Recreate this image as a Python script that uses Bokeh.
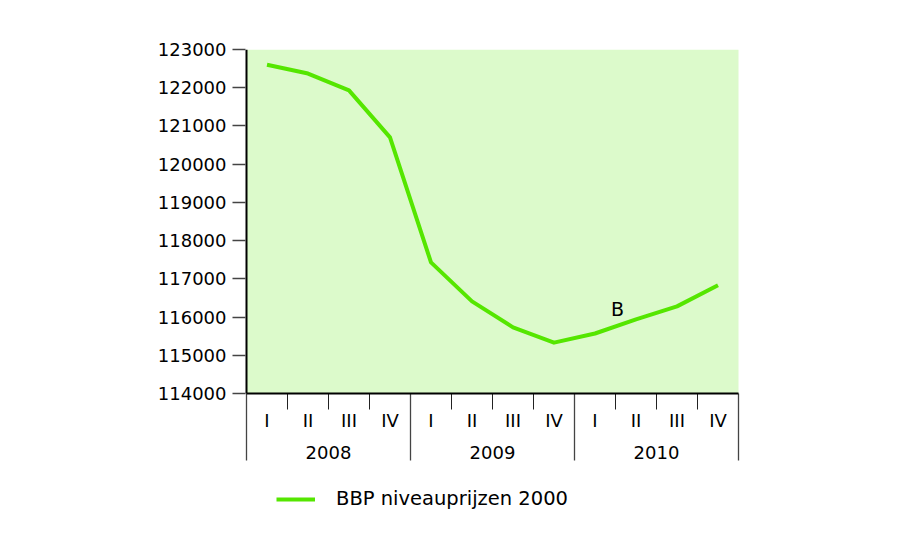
from bokeh.plotting import figure
from bokeh.models import Range1d, FixedTicker, Legend, LegendItem, BasicTickFormatter
from bokeh.embed import file_html
from bokeh.resources import INLINE
from bokeh.core.properties import value

# ---- data ----
years = ["2008", "2009", "2010"]
quarters = ["I", "II", "III", "IV"]
bbp = [122600, 122370, 121930, 120700,
       117430, 116410, 115730, 115330,
       115570, 115940, 116280, 116830]
series_name = "BBP niveauprijzen 2000"
y_ticks = [114000, 115000, 116000, 117000, 118000, 119000, 120000, 121000, 122000, 123000]
note_text = ["B"]
note_x = [9.05]
note_y = [116200]

# ---- layout constants (pixels) ----
W, H = 900, 548
F_LEFT, F_RIGHT, F_TOP, F_BOTTOM = 243, 741, 49, 548
Q_PX = 41.0          # pixels per quarter
PAD = 3              # extra frame pixels on left/right
Y_MIN, Y_MAX = y_ticks[0], y_ticks[-1]
AXIS_BOTTOM_PX = 393
PX_PER_UNIT = (AXIS_BOTTOM_PX - F_TOP) / (Y_MAX - Y_MIN)

def ypx(px):
    return Y_MAX - (px - F_TOP) / PX_PER_UNIT

FONT = "DejaVu Sans"
GREEN_BG = "#dcfacb"
GREEN_LINE = "#55e600"

n = len(bbp)
xs = [i + 0.5 for i in range(n)]

p = figure(width=W, height=H, output_backend="svg", toolbar_location=None,
           x_range=Range1d(-PAD / Q_PX, n + PAD / Q_PX),
           y_range=Range1d(ypx(F_BOTTOM), Y_MAX),
           x_axis_type=None,
           min_border_left=F_LEFT, min_border_right=W - F_RIGHT,
           min_border_top=F_TOP, min_border_bottom=H - F_BOTTOM)
p.outline_line_color = None
p.background_fill_color = "white"
p.border_fill_color = "white"
p.ygrid.grid_line_color = None

ax = p.yaxis[0]
ax.ticker = FixedTicker(ticks=y_ticks)
ax.formatter = BasicTickFormatter(use_scientific=False)
ax.bounds = (Y_MIN, Y_MAX)
ax.axis_line_color = None
ax.major_tick_out = 11
ax.major_tick_in = 2
ax.major_tick_line_color = "#444444"
ax.major_tick_line_width = 1.3
ax.minor_tick_line_color = None
ax.major_label_standoff = 6
ax.major_label_text_font = FONT
ax.major_label_text_font_size = "18px"
ax.major_label_text_color = "black"

# plot area
p.quad(left=0, right=n, bottom=Y_MIN, top=Y_MAX, fill_color=GREEN_BG, line_color=None)

# separators below the plot area
q_sep = [k for k in range(1, n) if k % 4 != 0]
y_sep = [k for k in range(0, n + 1, 4)]
p.segment(x0=q_sep, y0=[Y_MIN] * len(q_sep), x1=q_sep, y1=[ypx(409)] * len(q_sep),
          line_color="#222222", line_width=1)
p.segment(x0=y_sep, y0=[Y_MIN] * len(y_sep), x1=y_sep, y1=[ypx(460)] * len(y_sep),
          line_color="#444444", line_width=1.3)

# axis lines
p.segment(x0=[0], y0=[Y_MIN], x1=[n], y1=[Y_MIN], line_color="black", line_width=2)
p.segment(x0=[0], y0=[Y_MIN], x1=[0], y1=[Y_MAX], line_color="black", line_width=2)

# category labels
q_labels = [quarters[i % 4] for i in range(n)]
p.text(x=xs, y=[ypx(420)] * n, text=q_labels, text_align="center", text_baseline="middle",
       text_font=value(FONT), text_font_size="18px", text_color="black")
p.text(x=[4 * j + 2 for j in range(len(years))], y=[ypx(452)] * len(years), text=years,
       text_align="center", text_baseline="middle",
       text_font=value(FONT), text_font_size="18px", text_color="black")

# series
line_r = p.line(x=xs, y=bbp, line_color=GREEN_LINE, line_width=4, line_join="round")

# annotation
p.text(x=note_x, y=note_y, text=note_text, text_align="center", text_baseline="middle",
       text_font=value(FONT), text_font_size="19px", text_color="black")

legend = Legend(items=[LegendItem(label=series_name, renderers=[line_r])],
                location=(33, 38), glyph_width=39, glyph_height=20, label_standoff=21,
                padding=0, margin=0, border_line_color=None, background_fill_alpha=0,
                label_text_font=FONT, label_text_font_size="19.5px", label_text_color="black")
p.add_layout(legend)

open("out.html", "w").write(file_html(p, INLINE))
